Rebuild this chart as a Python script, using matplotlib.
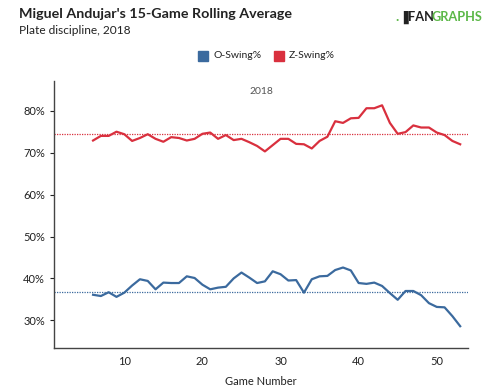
import matplotlib
matplotlib.use("Agg")
import matplotlib.pyplot as plt

games = list(range(6, 54))
o_swing = [36.1, 35.8, 36.7, 35.6, 36.6, 38.3, 39.8, 39.4, 37.4, 39.0,
           38.9, 38.9, 40.5, 40.1, 38.5, 37.4, 37.8, 38.0, 40.0, 41.4,
           40.2, 38.9, 39.3, 41.7, 41.0, 39.5, 39.6, 36.6, 39.8, 40.5,
           40.6, 42.0, 42.6, 41.9, 38.9, 38.7, 39.0, 38.2, 36.5, 34.9,
           37.0, 37.0, 36.0, 34.1, 33.2, 33.1, 31.0, 28.6]
z_swing = [72.9, 74.0, 74.0, 75.0, 74.4, 72.8, 73.5, 74.4, 73.3, 72.6,
           73.7, 73.5, 72.9, 73.3, 74.5, 74.8, 73.3, 74.2, 73.0, 73.3,
           72.5, 71.6, 70.3, 71.8, 73.3, 73.3, 72.1, 72.0, 71.0, 72.8,
           73.8, 77.5, 77.1, 78.2, 78.3, 80.6, 80.6, 81.3, 77.1, 74.5,
           74.9, 76.5, 76.0, 76.0, 74.8, 74.2, 72.8, 72.0]
o_avg = 36.7
z_avg = 74.4
x_ticks = [10, 20, 30, 40, 50]
y_ticks = [30, 40, 50, 60, 70, 80]
series_names = ["O-Swing%", "Z-Swing%"]

blue = "#3b6a9e"
red = "#d9303e"
plt.rcParams['font.family'] = ['Lato', 'DejaVu Sans']

fig = plt.figure(figsize=(5.0, 3.89), dpi=100)
ax = fig.add_axes([0.108, 0.1054, 0.828, 0.6864])

ax.plot(games, o_swing, color=blue, lw=1.6)
ax.plot(games, z_swing, color=red, lw=1.6)
ax.axhline(o_avg, color=blue, lw=0.9, ls=(0, (1, 1)))
ax.axhline(z_avg, color=red, lw=0.9, ls=(0, (1, 1)))

ax.set_xlim(1, 54)
ax.set_ylim(23.4, 87.1)
ax.set_xticks(x_ticks)
ax.set_yticks(y_ticks)
ax.set_yticklabels([f"{v}%" for v in y_ticks])
for s in ["top", "right"]:
    ax.spines[s].set_visible(False)
for s in ["left", "bottom"]:
    ax.spines[s].set_color("#444444")
    ax.spines[s].set_linewidth(1.0)
ax.tick_params(axis="both", labelsize=8, colors="#222222", length=3, width=0.8)
ax.tick_params(axis="x", length=0, pad=6)
ax.set_xlabel("Game Number", fontsize=8, color="#222222", labelpad=6)
ax.text(0.5, 0.96, "2018", transform=ax.transAxes, ha="center", va="center",
        fontsize=7.5, color="#555555")

fig.text(0.038, 0.964, "Miguel Andujar's 15-Game Rolling Average", fontsize=10.3,
         fontweight="bold", color="#222222", va="center", ha="left")
fig.text(0.038, 0.922, "Plate discipline, 2018", fontsize=8.6, color="#222222",
         va="center", ha="left")

# Legend
ly = 1 - 56 / 389
for xs, xt, name, c in [(198, 213, series_names[0], blue), (274, 289, series_names[1], red)]:
    fig.patches.append(matplotlib.patches.Rectangle((xs / 500, ly - 5 / 389), 10 / 500, 10 / 389,
                                                    transform=fig.transFigure, color=c))
    fig.text(xt / 500, ly, name, fontsize=7.5, color="#222222", va="center", ha="left")

# Logo
fig.text(395 / 500, 1 - 17 / 389, ".", fontsize=10, fontweight="bold", color="#5cb848",
         va="center", ha="left")
fig.text(398 / 500, 1 - 17 / 389, "\u2590", fontsize=9, color="#222222", va="center", ha="left")
fig.text(408 / 500, 1 - 17 / 389, "FAN", fontsize=9.2, fontweight="bold",
         color="#222222", va="center", ha="left")
fig.text(432 / 500, 1 - 17 / 389, "GRAPHS", fontsize=9.2, fontweight="bold",
         color="#5cb848", va="center", ha="left")

fig.savefig("out.png", dpi=100)
